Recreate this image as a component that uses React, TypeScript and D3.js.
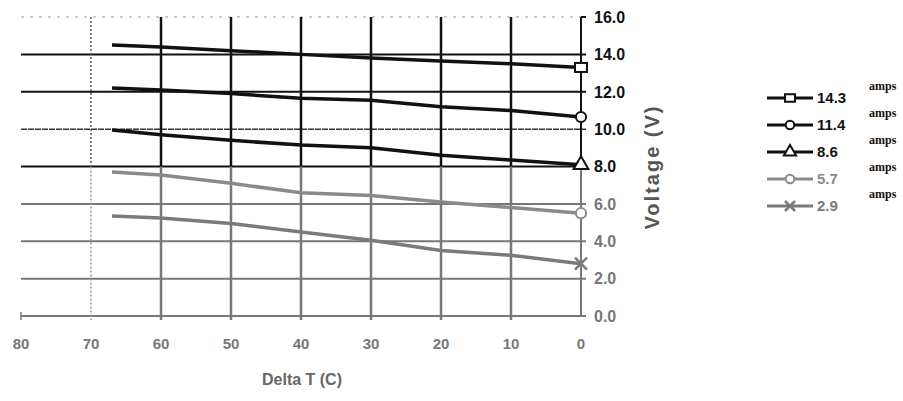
import { useEffect, useRef } from "react";
import * as d3 from "d3";

const deltaT = [67, 60, 50, 40, 30, 20, 10, 0];
const seriesNames = ["14.3", "11.4", "8.6", "5.7", "2.9"];
const amps143 = [14.5, 14.4, 14.2, 14.0, 13.8, 13.65, 13.5, 13.3];
const amps114 = [12.2, 12.1, 11.9, 11.65, 11.55, 11.2, 11.0, 10.65];
const amps86 = [9.95, 9.7, 9.4, 9.15, 9.0, 8.6, 8.35, 8.1];
const amps57 = [7.7, 7.55, 7.1, 6.6, 6.45, 6.1, 5.8, 5.5];
const amps29 = [5.35, 5.25, 4.95, 4.5, 4.05, 3.5, 3.25, 2.8];
const xTicks = [80, 70, 60, 50, 40, 30, 20, 10, 0];
const yTicks = [0, 2, 4, 6, 8, 10, 12, 14, 16];

const values = [amps143, amps114, amps86, amps57, amps29];
const colors = ["#111", "#111", "#111", "#8a8a8a", "#7a7a7a"];
const markers = ["square", "circle", "triangle", "circle", "cross"];

const App = () => {
  const svgRef = useRef<SVGSVGElement>(null);

  useEffect(() => {
    const svg = d3.select(svgRef.current);
    svg.selectAll("*").remove();

    const x = d3.scaleLinear().domain([80, 0]).range([21, 581]);
    const y = d3.scaleLinear().domain([0, 16]).range([316, 17]);
    const lineCol = (v: number) => (v >= 8 ? "#111" : "#777");
    const font = "'Liberation Sans', Arial, sans-serif";

    // horizontal grid
    yTicks.forEach((t) => {
      if (t === 16) {
        svg.append("line")
          .attr("x1", x(80)).attr("x2", x(0)).attr("y1", y(t)).attr("y2", y(t))
          .attr("stroke", "#999").attr("stroke-width", 1).attr("stroke-dasharray", "3,6");
        return;
      }
      svg.append("line")
        .attr("x1", x(80)).attr("x2", x(0) + 5).attr("y1", y(t)).attr("y2", y(t))
        .attr("stroke", t === 10 ? "#333" : lineCol(t))
        .attr("stroke-width", t === 10 ? 1.5 : 2)
        .attr("stroke-dasharray", t === 10 ? "6,1" : null);
    });

    // vertical grid
    xTicks.forEach((t) => {
      if (t === 80 || t === 0) return;
      const g = svg.append("g");
      g.append("line")
        .attr("x1", x(t)).attr("x2", x(t)).attr("y1", y(16)).attr("y2", y(8))
        .attr("stroke", t === 70 ? "#555" : "#111").attr("stroke-width", t === 70 ? 1.5 : 2.5)
        .attr("stroke-dasharray", t === 70 ? "2,2" : null);
      g.append("line")
        .attr("x1", x(t)).attr("x2", x(t)).attr("y1", y(8)).attr("y2", y(0) + 4)
        .attr("stroke", t === 70 ? "#999" : "#777").attr("stroke-width", t === 70 ? 1.5 : 2.5)
        .attr("stroke-dasharray", t === 70 ? "2,2" : null);
    });

    // left edge tick
    svg.append("line")
      .attr("x1", x(80)).attr("x2", x(80)).attr("y1", y(0) - 4).attr("y2", y(0) + 4)
      .attr("stroke", "#777").attr("stroke-width", 1.5);

    // right y axis
    svg.append("line")
      .attr("x1", x(0)).attr("x2", x(0)).attr("y1", y(16)).attr("y2", y(8))
      .attr("stroke", "#111").attr("stroke-width", 2);
    svg.append("line")
      .attr("x1", x(0)).attr("x2", x(0)).attr("y1", y(8)).attr("y2", y(0))
      .attr("stroke", "#777").attr("stroke-width", 2);
    svg.append("line")
      .attr("x1", x(0)).attr("x2", x(0) + 5).attr("y1", y(16)).attr("y2", y(16))
      .attr("stroke", "#111").attr("stroke-width", 2);

    yTicks.forEach((t) => {
      svg.append("text")
        .attr("x", x(0) + 13).attr("y", y(t)).attr("dy", "0.36em")
        .attr("font-family", font).attr("font-size", 16).attr("font-weight", "bold")
        .attr("fill", t >= 8 ? "#111" : "#777")
        .text(t.toFixed(1));
    });

    xTicks.forEach((t) => {
      svg.append("text")
        .attr("x", x(t)).attr("y", 349).attr("text-anchor", "middle")
        .attr("font-family", font).attr("font-size", 15).attr("font-weight", "bold")
        .attr("fill", "#777").text(String(t));
    });

    svg.append("text")
      .attr("x", 302).attr("y", 385).attr("text-anchor", "middle")
      .attr("font-family", font).attr("font-size", 16).attr("font-weight", "900")
      .attr("fill", "#666").text("Delta T (C)");

    svg.append("text")
      .attr("transform", `translate(659,167) rotate(-90)`)
      .attr("text-anchor", "middle")
      .attr("font-family", font).attr("font-size", 20).attr("font-weight", "900")
      .attr("letter-spacing", 2)
      .attr("fill", "#555").text("Voltage (V)");

    const drawMarker = (g: any, kind: string, cx: number, cy: number, color: string, s: number) => {
      if (kind === "square") {
        g.append("rect").attr("x", cx - s).attr("y", cy - s * 0.75).attr("width", s * 2).attr("height", s * 1.5)
          .attr("fill", "#fff").attr("stroke", color).attr("stroke-width", 2);
      } else if (kind === "circle") {
        g.append("circle").attr("cx", cx).attr("cy", cy).attr("r", s * 0.85)
          .attr("fill", "#fff").attr("stroke", color).attr("stroke-width", 2);
      } else if (kind === "triangle") {
        g.append("path")
          .attr("d", d3.symbol(d3.symbolTriangle, s * s * 2.6)())
          .attr("transform", `translate(${cx},${cy})`)
          .attr("fill", "#fff").attr("stroke", color).attr("stroke-width", 2);
      } else {
        g.append("path")
          .attr("d", `M${cx - s},${cy - s}L${cx + s},${cy + s}M${cx - s},${cy + s}L${cx + s},${cy - s}`)
          .attr("stroke", color).attr("stroke-width", 2.5);
      }
    };

    const line = d3.line<number>()
      .x((_, i) => x(deltaT[i]))
      .y((d) => y(d));

    values.forEach((vals, k) => {
      svg.append("path")
        .attr("d", line(vals))
        .attr("fill", "none")
        .attr("stroke", colors[k])
        .attr("stroke-width", 3.5);
      drawMarker(svg, markers[k], x(0), y(vals[vals.length - 1]), colors[k], 6);
    });

    // legend
    const legend = svg.append("g");
    seriesNames.forEach((name, k) => {
      const ly = 98 + k * 27;
      legend.append("line")
        .attr("x1", 767).attr("x2", 813).attr("y1", ly).attr("y2", ly)
        .attr("stroke", colors[k]).attr("stroke-width", 3);
      drawMarker(legend, markers[k], 790, ly, colors[k], 5);
      legend.append("text")
        .attr("x", 817).attr("y", ly).attr("dy", "0.36em")
        .attr("font-family", font).attr("font-size", 15).attr("font-weight", "bold")
        .attr("fill", colors[k]).text(name);
      legend.append("text")
        .attr("x", 869).attr("y", ly - 8)
        .attr("font-family", "'Liberation Serif', serif").attr("font-size", 12)
        .attr("font-weight", "bold")
        .attr("fill", "#111").text("amps");
    });
  }, []);

  return <svg ref={svgRef} width={903} height={401} style={{ position: "absolute", left: 0, top: 0 }} />;
};

export default App;
